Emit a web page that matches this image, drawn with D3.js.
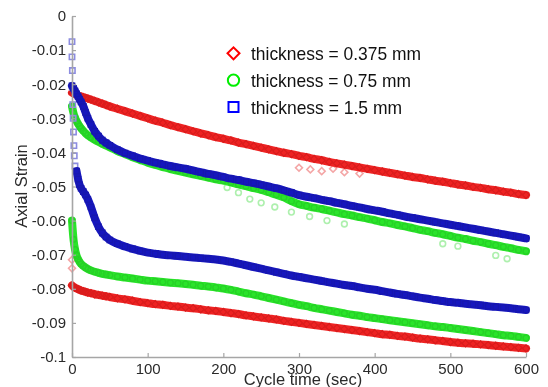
<!DOCTYPE html>
<html>
<head>
<meta charset="utf-8">
<script src="https://cdn.jsdelivr.net/npm/d3@7/dist/d3.min.js"></script>
<style>
  html, body { margin: 0; padding: 0; background: #fff; }
  svg { display: block; }
  text { font-family: "Liberation Sans", Arial, Helvetica, sans-serif; }
</style>
</head>
<body>
<svg id="chart" width="548" height="387"></svg>
<script>
// ---------------- data ----------------
const time = [0,2,4,6,8,10,12,15,18,21,25,30,35,40,45,50,60,70,80,90,
  100,110,120,130,140,150,160,170,180,190,200,210,220,230,240,250,260,270,280,290,
  300,310,320,330,340,350,360,370,380,390,400,410,420,430,440,450,460,470,480,490,
  500,510,520,530,540,550,560,570,580,590,600];

// thickness = 0.375 mm (red), upper and lower curves
const redUpper = [-0.0225,-0.0227,-0.0229,-0.0231,-0.0233,-0.0235,-0.0236,-0.0238,-0.0240,-0.0242,-0.0245,-0.0249,-0.0253,-0.0257,-0.0261,-0.0265,-0.0272,-0.0279,-0.0286,-0.0293,
  -0.0300,-0.0307,-0.0313,-0.0320,-0.0326,-0.0332,-0.0338,-0.0344,-0.0349,-0.0355,-0.0360,-0.0365,-0.0371,-0.0376,-0.0381,-0.0386,-0.0391,-0.0396,-0.0401,-0.0405,
  -0.0410,-0.0414,-0.0419,-0.0423,-0.0428,-0.0432,-0.0436,-0.0440,-0.0444,-0.0448,-0.0452,-0.0456,-0.0460,-0.0464,-0.0468,-0.0472,-0.0475,-0.0479,-0.0483,-0.0486,
  -0.0490,-0.0494,-0.0497,-0.0501,-0.0504,-0.0508,-0.0511,-0.0515,-0.0518,-0.0522,-0.0525];
const redLower = [-0.0790,-0.0794,-0.0797,-0.0799,-0.0801,-0.0803,-0.0805,-0.0807,-0.0809,-0.0811,-0.0813,-0.0816,-0.0818,-0.0820,-0.0822,-0.0824,-0.0828,-0.0831,-0.0835,-0.0839,
  -0.0842,-0.0845,-0.0847,-0.0850,-0.0852,-0.0855,-0.0857,-0.0860,-0.0863,-0.0865,-0.0868,-0.0871,-0.0874,-0.0878,-0.0881,-0.0884,-0.0887,-0.0890,-0.0894,-0.0897,
  -0.0900,-0.0903,-0.0906,-0.0909,-0.0912,-0.0915,-0.0918,-0.0921,-0.0924,-0.0927,-0.0930,-0.0933,-0.0935,-0.0938,-0.0940,-0.0943,-0.0946,-0.0948,-0.0951,-0.0953,
  -0.0956,-0.0958,-0.0960,-0.0961,-0.0963,-0.0965,-0.0967,-0.0969,-0.0971,-0.0973,-0.0975];

// thickness = 0.75 mm (green)
const greenUpper = [-0.0265,-0.0285,-0.0298,-0.0308,-0.0316,-0.0323,-0.0329,-0.0337,-0.0344,-0.0350,-0.0356,-0.0363,-0.0369,-0.0375,-0.0380,-0.0385,-0.0396,-0.0405,-0.0414,-0.0422,
  -0.0430,-0.0437,-0.0443,-0.0449,-0.0454,-0.0459,-0.0464,-0.0469,-0.0474,-0.0479,-0.0483,-0.0488,-0.0494,-0.0499,-0.0505,-0.0510,-0.0517,-0.0524,-0.0532,-0.0543,
  -0.0552,-0.0557,-0.0562,-0.0566,-0.0571,-0.0576,-0.0581,-0.0585,-0.0590,-0.0594,-0.0599,-0.0604,-0.0608,-0.0613,-0.0617,-0.0622,-0.0627,-0.0631,-0.0636,-0.0640,
  -0.0645,-0.0650,-0.0654,-0.0659,-0.0663,-0.0668,-0.0672,-0.0677,-0.0681,-0.0686,-0.0690];
const greenLower = [-0.0600,-0.0655,-0.0685,-0.0702,-0.0713,-0.0721,-0.0727,-0.0733,-0.0738,-0.0742,-0.0746,-0.0750,-0.0753,-0.0756,-0.0758,-0.0760,-0.0764,-0.0767,-0.0770,-0.0773,
  -0.0776,-0.0778,-0.0780,-0.0782,-0.0784,-0.0786,-0.0788,-0.0791,-0.0793,-0.0796,-0.0799,-0.0803,-0.0808,-0.0813,-0.0817,-0.0822,-0.0827,-0.0832,-0.0837,-0.0842,
  -0.0847,-0.0851,-0.0856,-0.0860,-0.0864,-0.0868,-0.0872,-0.0876,-0.0879,-0.0883,-0.0886,-0.0889,-0.0892,-0.0895,-0.0898,-0.0901,-0.0904,-0.0907,-0.0910,-0.0912,
  -0.0915,-0.0918,-0.0921,-0.0924,-0.0927,-0.0930,-0.0933,-0.0936,-0.0938,-0.0941,-0.0944];

// thickness = 1.5 mm (blue)
const blueUpper = [-0.0205,-0.0212,-0.0220,-0.0228,-0.0236,-0.0244,-0.0252,-0.0265,-0.0283,-0.0300,-0.0318,-0.0338,-0.0352,-0.0364,-0.0372,-0.0379,-0.0392,-0.0402,-0.0410,-0.0418,
  -0.0424,-0.0430,-0.0435,-0.0440,-0.0444,-0.0448,-0.0453,-0.0458,-0.0463,-0.0467,-0.0472,-0.0477,-0.0481,-0.0486,-0.0490,-0.0495,-0.0500,-0.0505,-0.0511,-0.0518,
  -0.0525,-0.0530,-0.0534,-0.0539,-0.0543,-0.0548,-0.0552,-0.0557,-0.0561,-0.0566,-0.0570,-0.0574,-0.0579,-0.0583,-0.0588,-0.0592,-0.0596,-0.0600,-0.0604,-0.0608,
  -0.0612,-0.0616,-0.0620,-0.0624,-0.0628,-0.0632,-0.0636,-0.0640,-0.0644,-0.0648,-0.0652];
const blueLower = [null,null,null,-0.0455,-0.0478,-0.0495,-0.0505,-0.0515,-0.0525,-0.0538,-0.0560,-0.0592,-0.0618,-0.0636,-0.0648,-0.0657,-0.0668,-0.0676,-0.0683,-0.0689,
  -0.0694,-0.0697,-0.0700,-0.0702,-0.0704,-0.0706,-0.0708,-0.0710,-0.0712,-0.0714,-0.0717,-0.0721,-0.0726,-0.0731,-0.0736,-0.0741,-0.0746,-0.0751,-0.0756,-0.0761,
  -0.0765,-0.0769,-0.0773,-0.0777,-0.0781,-0.0785,-0.0789,-0.0792,-0.0796,-0.0800,-0.0803,-0.0807,-0.0811,-0.0815,-0.0818,-0.0822,-0.0826,-0.0829,-0.0833,-0.0836,
  -0.0839,-0.0841,-0.0844,-0.0846,-0.0848,-0.0851,-0.0853,-0.0855,-0.0857,-0.0860,-0.0862];

// sparse / faint scattered points
const blueEarlyT = [0,0,0.5,1,1,1.5,2,2.5,3,4];
const blueEarlyV = [-0.0075,-0.012,-0.016,-0.021,-0.026,-0.030,-0.034,-0.038,-0.041,-0.044];
const redFaintT = [0,0,300,315,330,345,360,380];
const redFaintV = [-0.0715,-0.0740,-0.0445,-0.0450,-0.0455,-0.0448,-0.0458,-0.0462];
const greenFaintT = [205,220,235,250,268,290,314,337,360,490,510,560,575];
const greenFaintV = [-0.0503,-0.0518,-0.0537,-0.0548,-0.0560,-0.0575,-0.0588,-0.0600,-0.0610,-0.0668,-0.0675,-0.0702,-0.0712];

const series = [
  { name: "thickness = 0.375 mm", color: "#ee2222", shape: "diamond", curves: [redUpper, redLower], faintT: redFaintT, faintV: redFaintV, faint: "#f4a6a6" },
  { name: "thickness = 0.75 mm",  color: "#2ae42a", shape: "circle",  curves: [greenUpper, greenLower], faintT: greenFaintT, faintV: greenFaintV, faint: "#aef0ae" },
  { name: "thickness = 1.5 mm",   color: "#1616be", shape: "square",  curves: [blueUpper, blueLower], faintT: blueEarlyT, faintV: blueEarlyV, faint: "#8c8ce0" }
];
const legendColors = ["#ff0000", "#00ee00", "#0000ff"];
const legendWidths = [170, 160, 151];

const xTicks = [0,100,200,300,400,500,600];
const yTicks = [0,-0.01,-0.02,-0.03,-0.04,-0.05,-0.06,-0.07,-0.08,-0.09,-0.1];
const yTickLabels = ["0","-0.01","-0.02","-0.03","-0.04","-0.05","-0.06","-0.07","-0.08","-0.09","-0.1"];

// ---------------- drawing ----------------
const svg = d3.select("#chart");
const x = d3.scaleLinear().domain([0, 600]).range([72, 526]);
const y = d3.scaleLinear().domain([-0.1, 0]).range([357, 16]);

const defs = svg.append("defs");
defs.append("filter").attr("id", "soft").append("feGaussianBlur").attr("stdDeviation", 0.55);

// diamond = square rotated by 45 degrees
const symbolType = { diamond: d3.symbolSquare, circle: d3.symbolCircle, square: d3.symbolSquare };
const rot = { diamond: 45, circle: 0, square: 0 };
const markSize = { diamond: 24, circle: 26, square: 28 };

const line = d3.line()
  .defined(d => d[1] !== null)
  .x(d => x(d[0]))
  .y(d => y(d[1]))
  .curve(d3.curveMonotoneX);

const plot = svg.append("g").attr("filter", "url(#soft)");

series.forEach(s => {
  const g = plot.append("g");
  g.selectAll("path.faint")
    .data(s.faintT.map((t, i) => [t, s.faintV[i]]))
    .join("path")
    .attr("class", "faint")
    .attr("transform", d => `translate(${x(d[0])},${y(d[1])}) rotate(${rot[s.shape]})`)
    .attr("d", d3.symbol().type(symbolType[s.shape]).size(markSize[s.shape]))
    .attr("fill", "none")
    .attr("stroke", s.faint)
    .attr("stroke-width", 1.6);

  s.curves.forEach(vals => {
    const pts = time.map((t, i) => [t, vals[i]]);
    g.append("path")
      .datum(pts)
      .attr("d", line)
      .attr("fill", "none")
      .attr("stroke", s.color)
      .attr("stroke-width", 8)
      .attr("stroke-linecap", "round")
      .attr("stroke-linejoin", "round");
    g.selectAll(null)
      .data(pts.filter(d => d[1] !== null))
      .join("path")
      .attr("transform", d => `translate(${x(d[0])},${y(d[1])}) rotate(${rot[s.shape]})`)
      .attr("d", d3.symbol().type(symbolType[s.shape]).size(markSize[s.shape]))
      .attr("fill", "none")
      .attr("stroke", d3.color(s.color).darker(0.25))
      .attr("stroke-width", 1.3);
  });
});

// axes
const axisColor = "#a6a6a6";
const yAxis = svg.append("g")
  .attr("transform", `translate(${x(0)},0)`)
  .call(d3.axisLeft(y).tickValues(yTicks).tickSize(-4).tickSizeOuter(0).tickPadding(6)
    .tickFormat((d, i) => yTickLabels[i]));
const xAxis = svg.append("g")
  .attr("transform", `translate(0,${y(-0.1)})`)
  .call(d3.axisBottom(x).tickValues(xTicks).tickSize(-4).tickSizeOuter(0).tickPadding(6)
    .tickFormat(d3.format("d")));
[yAxis, xAxis].forEach(a => {
  a.select(".domain").attr("stroke", axisColor).attr("stroke-width", 1.6);
  a.selectAll(".tick line").attr("stroke", axisColor).attr("stroke-width", 1.2);
  a.selectAll(".tick text").attr("fill", "#2a2a2a").style("font-size", "15px")
    .style("font-family", "'Liberation Sans', Arial, sans-serif");
});

// axis titles
svg.append("text")
  .attr("x", 303).attr("y", 385)
  .attr("text-anchor", "middle")
  .attr("fill", "#2a2a2a")
  .style("font-size", "16.5px")
  .text("Cycle time (sec)");
svg.append("text")
  .attr("transform", "translate(27,186) rotate(-90)")
  .attr("text-anchor", "middle")
  .attr("fill", "#2a2a2a")
  .style("font-size", "16.5px")
  .text("Axial Strain");

// legend
const legend = svg.append("g");
series.forEach((s, i) => {
  const cy = 53.3 + i * 26.9;
  legend.append("path")
    .attr("transform", `translate(233.5,${cy}) rotate(${rot[s.shape]})`)
    .attr("d", d3.symbol().type(symbolType[s.shape]).size(s.shape === "diamond" ? 72 : s.shape === "circle" ? 100 : 100))
    .attr("fill", "none")
    .attr("stroke", legendColors[i])
    .attr("stroke-width", 2);
  legend.append("text")
    .attr("x", 251).attr("y", cy + 7)
    .attr("fill", "#111")
    .style("font-size", "19px")
    .attr("textLength", legendWidths[i])
    .attr("lengthAdjust", "spacingAndGlyphs")
    .text(s.name);
});
</script>
</body>
</html>
